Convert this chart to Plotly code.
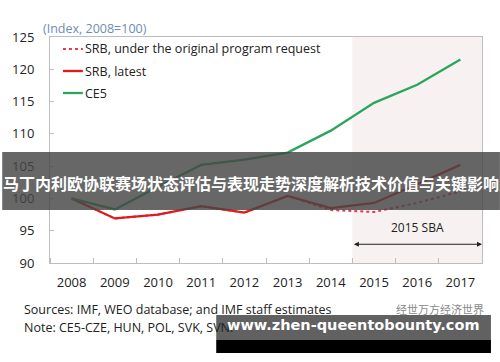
import plotly.graph_objects as go

years = [2008, 2009, 2010, 2011, 2012, 2013, 2014, 2015, 2016, 2017]
srb_original = [100.0, 96.9, 97.5, 98.8, 97.8, 100.4, 98.2, 97.9, 99.3, 101.1]
srb_latest = [100.0, 96.9, 97.5, 98.8, 97.8, 100.4, 98.5, 99.3, 102.2, 105.2]
ce5 = [100.0, 98.3, 101.8, 105.2, 106.0, 107.1, 110.5, 114.8, 117.6, 121.5]

series_names = ["SRB, under the original program request", "SRB, latest", "CE5"]
series_colors = ["#e8384f", "#e01b1b", "#2aa65a"]
series_dash = ["dot", "solid", "solid"]
series_width = [2, 2.3, 2.3]

FONT = "Open Sans"
# plot area in page pixels: x 48..482, y 37..263
PX0, PW, PY0, PH = 48, 434, 37, 226


def px(x):
    return (x - PX0) / PW


def py(y):
    return (PY0 + PH - y) / PH


fig = go.Figure()
for name, vals, col, dash, w in zip(series_names, [srb_original, srb_latest, ce5],
                                    series_colors, series_dash, series_width):
    fig.add_trace(go.Scatter(x=years, y=vals, mode="lines", name=name,
                             line=dict(color=col, width=w, dash=dash)))

# manual legend
for i, (name, col, dash, w) in enumerate(zip(series_names, series_colors, series_dash, series_width)):
    yy = 49 + 22 * i
    fig.add_shape(type="line", xref="paper", yref="paper", x0=px(61), x1=px(81),
                  y0=py(yy), y1=py(yy), line=dict(color=col, width=w, dash=dash))
    fig.add_annotation(xref="paper", yref="paper", x=px(81), y=py(yy), xanchor="left",
                       yanchor="middle", text=name, showarrow=False,
                       font=dict(family=FONT, size=12.5, color="#222"))

# shaded SBA region
fig.add_shape(type="rect", xref="x", yref="paper", x0=2014.5, x1=2017.5, y0=0, y1=1,
              fillcolor="#f7f1f1", line_width=0, layer="below")

fig.add_annotation(x=2016, y=95.5, text="2015 SBA", showarrow=False,
                   font=dict(family=FONT, size=12, color="#222"))
fig.add_annotation(x=2017.5, y=92.9, ax=2014.5, ay=92.9, axref="x", ayref="y",
                   xref="x", yref="y", text="", showarrow=True, arrowhead=2,
                   arrowside="end+start", arrowsize=1, arrowwidth=1, arrowcolor="#222")

fig.add_annotation(xref="paper", yref="paper", x=px(39), y=py(28), xanchor="left", yanchor="middle",
                   text="(Index, 2008=100)", showarrow=False,
                   font=dict(family=FONT, size=12.5, color="#6d8db3"))

fig.add_annotation(xref="paper", yref="paper", x=px(20), y=py(309), xanchor="left", yanchor="middle",
                   text="Sources: IMF, WEO database; and IMF staff estimates",
                   showarrow=False, font=dict(family=FONT, size=12.5, color="#222"))
fig.add_annotation(xref="paper", yref="paper", x=px(20), y=py(327), xanchor="left", yanchor="middle",
                   text="Note: CE5-CZE, HUN, POL, SVK, SVN.",
                   showarrow=False, font=dict(family=FONT, size=12.5, color="#222"))

# overlay banner
fig.add_shape(type="rect", xref="paper", yref="paper", x0=px(0), x1=px(500),
              y0=py(210), y1=py(152),
              fillcolor="rgba(70,70,70,0.82)", line_width=0, layer="above")
fig.add_annotation(xref="paper", yref="paper", x=px(250), y=py(183),
                   text="<b>马丁内利欧协联赛场状态评估与表现走势深度解析技术价值与关键影响</b>",
                   showarrow=False, font=dict(family="Noto Sans CJK SC", size=16, color="white"))

# bottom watermark
fig.add_shape(type="rect", xref="paper", yref="paper", x0=px(215), x1=px(491),
              y0=py(340), y1=py(315),
              fillcolor="rgba(85,85,85,0.93)", line_width=0, layer="above")
fig.add_shape(type="rect", xref="paper", yref="paper", x0=px(215), x1=px(491),
              y0=py(353), y1=py(340),
              fillcolor="black", line_width=0, layer="above")
fig.add_annotation(xref="paper", yref="paper", x=px(486), y=py(319), xanchor="right",
                   text="经世万方经济世界", showarrow=False,
                   font=dict(family="Noto Sans CJK SC", size=11, color="#8a8a8a"))
fig.add_annotation(xref="paper", yref="paper", x=px(224), y=py(335), xanchor="left",
                   text="<b>www.zhen-queentobounty.com</b>", showarrow=False,
                   font=dict(family="DejaVu Sans", size=14.5, color="white"))

fig.update_layout(
    width=500, height=362,
    margin=dict(l=48, r=18, t=37, b=99),
    paper_bgcolor="white", plot_bgcolor="white",
    showlegend=False,
    font=dict(family=FONT),
)
fig.update_xaxes(range=[2007.5, 2017.5], tickvals=years, ticktext=[str(y) for y in years],
                 ticks="", showgrid=False, zeroline=False,
                 showline=True, linecolor="#bdbdbd", linewidth=1, mirror=True,
                 minor=dict(tick0=2007.5, dtick=1, ticks="inside", ticklen=5, tickcolor="#bdbdbd"),
                 tickfont=dict(family=FONT, size=13, color="#222"), ticklabelstandoff=7)
fig.update_yaxes(range=[90, 125], dtick=5, ticks="inside", ticklen=4, tickcolor="#bdbdbd",
                 showgrid=False, zeroline=False,
                 showline=True, linecolor="#bdbdbd", linewidth=1, mirror=True,
                 tickfont=dict(family=FONT, size=13, color="#222"), ticklabelstandoff=12)

post = ("document.body.style.margin='0';document.body.style.padding='0';"
        "document.body.style.overflow='hidden';"
        "document.documentElement.style.overflow='hidden';")
fig.write_html("out.html", post_script=post, config={"displayModeBar": False})
